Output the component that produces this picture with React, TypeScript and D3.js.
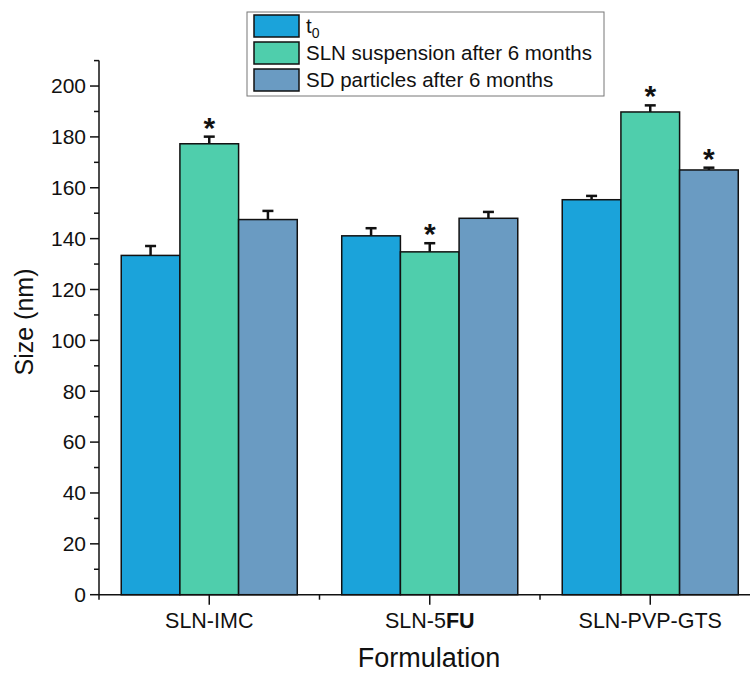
import React from "react";
import * as d3 from "d3";

// Particle size of the three formulations at t0 and after 6 months of storage
const formulations = ["SLN-IMC", "SLN-5FU", "SLN-PVP-GTS"];
const seriesKeys = ["t0", "sln", "sd"];
const seriesLabels = ["t0", "SLN suspension after 6 months", "SD particles after 6 months"];
const seriesColors = ["#1ba3da", "#4fceac", "#6a9bc2"];

const sizeT0 = [133.4, 141.1, 155.3];
const errT0 = [3.7, 3.0, 1.5];
const sizeSln = [177.3, 134.8, 189.8];
const errSln = [2.8, 3.4, 2.6];
const sizeSd = [147.5, 148.0, 167.0];
const errSd = [3.4, 2.5, 0.9];
// significant difference versus t0
const sigSln = [true, true, true];
const sigSd = [false, false, true];

const yTicks = [0, 20, 40, 60, 80, 100, 120, 140, 160, 180, 200];
const yMinorTicks = d3.range(10, 220, 20);

const W = 750;
const H = 675;
const FONT = "'Liberation Sans', Arial, Helvetica, sans-serif";

export default function App() {
  const x = d3.scaleBand<string>().domain(formulations).range([99, 760.5]).padding(0);
  const xInner = d3
    .scaleBand<string>()
    .domain(seriesKeys)
    .range([0, x.bandwidth()])
    .paddingInner(0)
    .paddingOuter(0.379);
  const y = d3.scaleLinear().domain([0, 210]).range([594.7, 60.6]);

  const values = [sizeT0, sizeSln, sizeSd];
  const errors = [errT0, errSln, errSd];
  const sigs = [null, sigSln, sigSd];

  const bars: { key: string; x: number; w: number; v: number; e: number; color: string; sig: boolean }[] = [];
  formulations.forEach((f, i) => {
    seriesKeys.forEach((s, j) => {
      bars.push({
        key: `${f}-${s}`,
        x: (x(f) ?? 0) + (xInner(s) ?? 0),
        w: xInner.bandwidth(),
        v: values[j][i],
        e: errors[j][i],
        color: seriesColors[j],
        sig: sigs[j] ? (sigs[j] as boolean[])[i] : false,
      });
    });
  });

  const x0 = 99;
  const yBase = y(0);
  const minorX = [x0, ...formulations.slice(1).map((f) => x(f) ?? 0)];

  const legendX = 247;
  const legendY = 12;
  const rowH = 27;

  return (
    <div style={{ position: "absolute", left: 0, top: 0 }}>
      <svg width={W} height={H} style={{ display: "block", background: "#fff" }} fontFamily={FONT}>
        {/* bars */}
        {bars.map((b) => (
          <rect
            key={b.key}
            x={b.x}
            y={y(b.v)}
            width={b.w}
            height={yBase - y(b.v)}
            fill={b.color}
            stroke="#111"
            strokeWidth={1.5}
          />
        ))}
        {/* error bars (upper half) */}
        {bars.map((b) => {
          const cx = b.x + b.w / 2;
          return (
            <g key={b.key + "-err"} stroke="#111" strokeWidth={2.5}>
              <line x1={cx} x2={cx} y1={y(b.v)} y2={y(b.v + b.e)} />
              <line x1={cx - 5.5} x2={cx + 5.5} y1={y(b.v + b.e)} y2={y(b.v + b.e)} />
            </g>
          );
        })}
        {/* significance markers */}
        {bars
          .filter((b) => b.sig)
          .map((b) => (
            <text
              key={b.key + "-sig"}
              x={b.x + b.w / 2}
              y={y(b.v + b.e) + 1}
              textAnchor="middle"
              fontSize={30}
              fontWeight="bold"
              fill="#111"
            >
              *
            </text>
          ))}

        {/* y axis */}
        <line x1={x0} x2={x0} y1={y(210)} y2={yBase} stroke="#111" strokeWidth={1.5} />
        {yTicks.map((t) => (
          <g key={"yt" + t}>
            <line x1={x0 - 9} x2={x0} y1={y(t)} y2={y(t)} stroke="#111" strokeWidth={1.5} />
            <text x={x0 - 13} y={y(t)} dy="0.35em" textAnchor="end" fontSize={21} fill="#111">
              {t}
            </text>
          </g>
        ))}
        {yMinorTicks.map((t) => (
          <line key={"ym" + t} x1={x0 - 5} x2={x0} y1={y(t)} y2={y(t)} stroke="#111" strokeWidth={1.5} />
        ))}
        <text
          transform={`translate(33, 322) rotate(-90)`}
          textAnchor="middle"
          fontSize={25}
          fill="#111"
        >
          Size (nm)
        </text>

        {/* x axis */}
        <line x1={x0} x2={760} y1={yBase} y2={yBase} stroke="#111" strokeWidth={1.5} />
        {formulations.map((f) => {
          const cx = (x(f) ?? 0) + x.bandwidth() / 2;
          return (
            <g key={"xt" + f}>
              <line x1={cx} x2={cx} y1={yBase} y2={yBase + 10} stroke="#111" strokeWidth={1.5} />
              <text x={cx} y={yBase + 33} textAnchor="middle" fontSize={21.5} fill="#111">
                {f.includes("5FU") ? (
                  <>
                    SLN-5<tspan fontWeight="bold">FU</tspan>
                  </>
                ) : (
                  f
                )}
              </text>
            </g>
          );
        })}
        {minorX.map((mx, i) => (
          <line key={"xm" + i} x1={mx} x2={mx} y1={yBase} y2={yBase + 5} stroke="#111" strokeWidth={1.5} />
        ))}
        <text x={429} y={667} textAnchor="middle" fontSize={27} fill="#111">
          Formulation
        </text>

        {/* legend */}
        <rect x={legendX} y={legendY} width={357} height={84} fill="#fff" stroke="#777" strokeWidth={1} />
        {seriesLabels.map((lab, i) => (
          <g key={"lg" + i} transform={`translate(${legendX + 7}, ${legendY + 3 + i * rowH})`}>
            <rect x={0} y={0} width={45} height={22} fill={seriesColors[i]} stroke="#111" strokeWidth={1.5} />
            <text x={52} y={18} fontSize={20.5} fill="#111">
              {i === 0 ? (
                <>
                  t<tspan fontSize={14} dy={5}>0</tspan>
                </>
              ) : (
                lab
              )}
            </text>
          </g>
        ))}
      </svg>
    </div>
  );
}
